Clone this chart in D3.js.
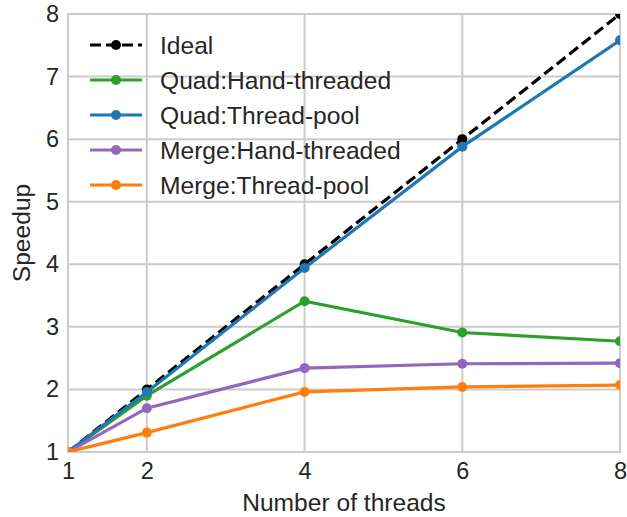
<!DOCTYPE html>
<html>
<head>
<meta charset="utf-8">
<script src="https://cdn.jsdelivr.net/npm/d3@7"></script>
<style>
  html, body { margin: 0; padding: 0; background: #fff; }
  svg { display: block; font-family: "Liberation Sans", Arial, sans-serif; }
</style>
</head>
<body>
<svg id="chart" width="627" height="517"></svg>
<script>
// Thread counts on the x axis
const threads = [1, 2, 4, 6, 8];
const xTicks = [1, 2, 4, 6, 8];
const yTicks = [1, 2, 3, 4, 5, 6, 7, 8];

// Speedup for each configuration
const ideal = [1, 2, 4, 6, 8];
const quadHand = [1, 1.90, 3.41, 2.91, 2.77];
const quadPool = [1, 1.96, 3.94, 5.88, 7.58];
const mergeHand = [1, 1.70, 2.34, 2.41, 2.42];
const mergePool = [1, 1.31, 1.96, 2.04, 2.07];

const seriesNames = ["Ideal", "Quad:Hand-threaded", "Quad:Thread-pool", "Merge:Hand-threaded", "Merge:Thread-pool"];
const seriesValues = [ideal, quadHand, quadPool, mergeHand, mergePool];
const seriesColors = ["#000000", "#2ca02c", "#1f77b4", "#9467bd", "#ff7f0e"];
const seriesDash = ["11,5", null, null, null, null];

const svg = d3.select("#chart");
const plot = { left: 68, right: 620, top: 14, bottom: 452 };

const x = d3.scaleLinear().domain([1, 8]).range([plot.left, plot.right]);
const y = d3.scaleLinear().domain([1, 8]).range([plot.bottom, plot.top]);

const gridColor = "#cccccc";
const textColor = "#262626";

// Grid lines
const grid = svg.append("g");
grid.selectAll("line.vx").data(xTicks).join("line")
  .attr("x1", d => x(d)).attr("x2", d => x(d))
  .attr("y1", plot.top).attr("y2", plot.bottom)
  .attr("stroke", gridColor).attr("stroke-width", 2);
grid.selectAll("line.hy").data(yTicks).join("line")
  .attr("y1", d => y(d)).attr("y2", d => y(d))
  .attr("x1", plot.left).attr("x2", plot.right)
  .attr("stroke", gridColor).attr("stroke-width", 2);

// Axes frame
svg.append("rect")
  .attr("x", plot.left).attr("y", plot.top)
  .attr("width", plot.right - plot.left).attr("height", plot.bottom - plot.top)
  .attr("fill", "none").attr("stroke", gridColor).attr("stroke-width", 2);

// Tick labels via d3 axes
const xAxis = svg.append("g")
  .attr("transform", `translate(0,${plot.bottom})`)
  .call(d3.axisBottom(x).tickValues(xTicks).tickSize(0).tickPadding(10).tickFormat(d3.format("d")));
const yAxis = svg.append("g")
  .attr("transform", `translate(${plot.left},0)`)
  .call(d3.axisLeft(y).tickValues(yTicks).tickSize(0).tickPadding(9).tickFormat(d3.format("d")));
[xAxis, yAxis].forEach(a => {
  a.select(".domain").remove();
  a.selectAll("text").attr("font-size", 23.5).attr("fill", textColor)
    .attr("font-family", "Liberation Sans, Arial, sans-serif");
});

// Axis titles
svg.append("text")
  .attr("x", (plot.left + plot.right) / 2).attr("y", 511)
  .attr("text-anchor", "middle").attr("font-size", 24.6).attr("fill", textColor)
  .text("Number of threads");
svg.append("text")
  .attr("transform", `translate(30,${(plot.top + plot.bottom) / 2}) rotate(-90)`)
  .attr("text-anchor", "middle").attr("font-size", 24.6).attr("fill", textColor)
  .text("Speedup");

// Clip series to the axes area
svg.append("clipPath").attr("id", "clip")
  .append("rect")
  .attr("x", plot.left).attr("y", plot.top)
  .attr("width", plot.right - plot.left).attr("height", plot.bottom - plot.top);

const line = d3.line().x((d, i) => x(threads[i])).y(d => y(d));
const series = svg.append("g").attr("clip-path", "url(#clip)");

seriesValues.forEach((vals, k) => {
  const g = series.append("g");
  g.append("path")
    .datum(vals)
    .attr("d", line)
    .attr("fill", "none")
    .attr("stroke", seriesColors[k])
    .attr("stroke-width", 3.2)
    .attr("stroke-dasharray", seriesDash[k]);
  g.selectAll("circle").data(vals).join("circle")
    .attr("cx", (d, i) => x(threads[i]))
    .attr("cy", d => y(d))
    .attr("r", 5)
    .attr("fill", seriesColors[k]);
});

// Legend
const legend = svg.append("g");
seriesNames.forEach((name, k) => {
  const ly = 45 + k * 35;
  const row = legend.append("g");
  row.append("line")
    .attr("x1", 90).attr("x2", 142).attr("y1", ly).attr("y2", ly)
    .attr("stroke", seriesColors[k]).attr("stroke-width", 3.2)
    .attr("stroke-dasharray", seriesDash[k]);
  row.append("circle").attr("cx", 116).attr("cy", ly).attr("r", 5)
    .attr("fill", seriesColors[k]);
  row.append("text")
    .attr("x", 160).attr("y", ly + 8.7)
    .attr("font-size", 24.6).attr("fill", textColor)
    .text(name);
});
</script>
</body>
</html>
